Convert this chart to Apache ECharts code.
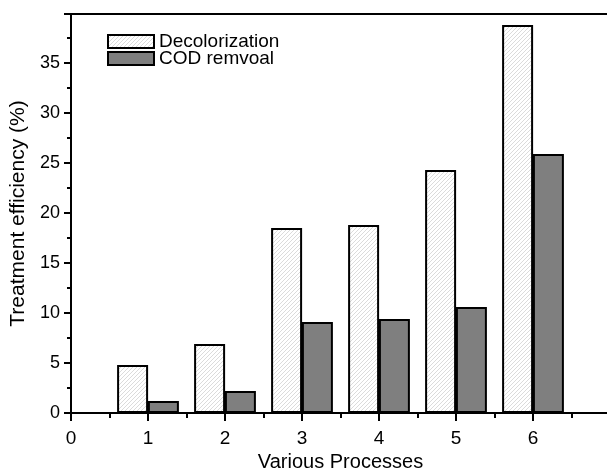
<!DOCTYPE html>
<html>
<head>
<meta charset="utf-8">
<script src="https://cdn.jsdelivr.net/npm/echarts@6/dist/echarts.min.js"></script>
<style>
  html, body { margin: 0; padding: 0; background: #fff; }
  #chart { width: 607px; height: 469px; }
</style>
</head>
<body>
<div id="chart"></div>
<script>
// Process numbers on the x axis and the two efficiency series (%)
const processes = [1, 2, 3, 4, 5, 6];
const decolorization = [4.8, 6.9, 18.5, 18.8, 24.3, 38.8];
const codRemoval = [1.2, 2.2, 9.1, 9.4, 10.6, 25.9];
const seriesNames = ['Decolorization', 'COD remvoal'];
const xTitle = 'Various Processes';
const yTitle = 'Treatment efficiency (%)';

// Bars sit either side of each process number
const offsetLeft = 0.2;
const offsetRight = 0.2;

// Diagonal hatch tile for the decolorization bars
function hatchTile() {
  const s = 4;
  const c = document.createElement('canvas');
  c.width = s; c.height = s;
  const g = c.getContext('2d');
  g.fillStyle = '#ffffff';
  g.fillRect(0, 0, s, s);
  g.strokeStyle = '#d2d2d2';
  g.lineWidth = 0.8;
  g.beginPath();
  g.moveTo(-1, s + 1); g.lineTo(s + 1, -1);
  g.moveTo(-1, 1); g.lineTo(1, -1);
  g.moveTo(s - 1, s + 1); g.lineTo(s + 1, s - 1);
  g.stroke();
  return c;
}

const font = 'Arial, "Liberation Sans", sans-serif';
const chart = echarts.init(document.getElementById('chart'), null, { renderer: 'canvas' });

chart.setOption({
  backgroundColor: '#ffffff',
  animation: false,
  grid: {
    left: 71, top: 14, width: 539, height: 399,
    containLabel: false,
    outerBoundsMode: 'none'
  },
  legend: {
    orient: 'vertical',
    left: 102,
    top: 27,
    itemWidth: 46,
    itemHeight: 13,
    itemGap: -2,
    icon: 'rect',
    textStyle: { fontFamily: font, fontSize: 19, color: '#000', lineHeight: 17 },
    data: seriesNames
  },
  xAxis: [{
    type: 'value',
    min: 0, max: 7, interval: 1,
    name: xTitle,
    nameLocation: 'middle',
    nameGap: 37,
    nameTextStyle: { fontFamily: font, fontSize: 20, color: '#000' },
    axisLine: { show: true, onZero: false, lineStyle: { color: '#000', width: 2 } },
    axisTick: { show: true, inside: false, length: 8, lineStyle: { color: '#000', width: 2 } },
    minorTick: { show: true, splitNumber: 2, length: 5, lineStyle: { color: '#000', width: 2 } },
    axisLabel: { margin: 16, fontFamily: font, fontSize: 19, color: '#000', showMaxLabel: false },
    splitLine: { show: false }
  }, {
    type: 'value', position: 'top', min: 0, max: 7,
    axisLine: { show: true, onZero: false, lineStyle: { color: '#000', width: 2 } },
    axisTick: { show: false }, axisLabel: { show: false }, splitLine: { show: false }
  }],
  yAxis: {
    type: 'value',
    min: 0, max: 39.9, interval: 5,
    name: yTitle,
    nameLocation: 'middle',
    nameGap: 38,
    nameTextStyle: { fontFamily: font, fontSize: 21, color: '#000' },
    axisLine: { show: true, onZero: false, lineStyle: { color: '#000', width: 2 } },
    axisTick: { show: true, inside: false, length: 7, lineStyle: { color: '#000', width: 2 } },
    minorTick: { show: true, splitNumber: 2, length: 4, lineStyle: { color: '#000', width: 2 } },
    axisLabel: { margin: 11, fontFamily: font, fontSize: 18, color: '#000', showMaxLabel: false },
    splitLine: { show: false }
  },
  series: [{
    name: seriesNames[0],
    type: 'bar',
    barWidth: 31,
    barGap: '-100%',
    itemStyle: {
      color: { image: hatchTile(), repeat: 'repeat' },
      borderColor: '#000',
      borderWidth: 2
    },
    data: processes.map((p, i) => [p - offsetLeft, decolorization[i]])
  }, {
    name: seriesNames[1],
    type: 'bar',
    barWidth: 31,
    barGap: '-100%',
    itemStyle: { color: '#7f7f7f', borderColor: '#000', borderWidth: 2 },
    data: processes.map((p, i) => [p + offsetRight, codRemoval[i]])
  }]
});
</script>
</body>
</html>
